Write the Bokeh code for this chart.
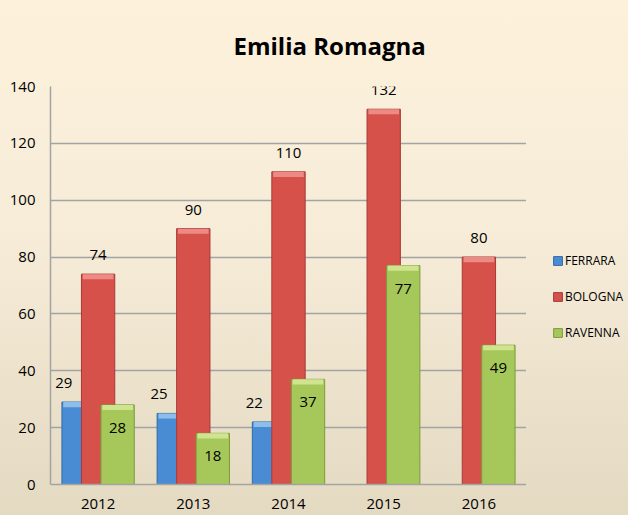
from bokeh.plotting import figure
from bokeh.layouts import row
from bokeh.models import ColumnDataSource, FactorRange, FixedTicker, Legend, LegendItem, Range1d
from bokeh.transform import dodge
from bokeh.core.properties import value
from bokeh.embed import file_html
from bokeh.resources import INLINE

# ---- data ----
years = ["2012", "2013", "2014", "2015", "2016"]
ferrara = [29, 25, 22, None, None]
bologna = [74, 90, 110, 132, 80]
ravenna = [28, 18, 37, 77, 49]
y_ticks = [0, 20, 40, 60, 80, 100, 120, 140]
series_names = ["FERRARA", "BOLOGNA", "RAVENNA"]
title_text = "Emilia Romagna"

# ---- style ----
FONT = "Open Sans"
fill_colors = ["#4A8CD3", "#D7514B", "#A6C85A"]
hi_colors = ["#8DBDEB", "#EE8A84", "#CFE48E"]
line_colors = ["#2F6AA8", "#A63A35", "#7E9A3C"]
offsets = [-0.205, 0.0, 0.205]
bar_w = 0.35
grid_col = "#A3A3A3"
cap = 1.8  # bevel highlight thickness, in value units
BG = {"background-image": "linear-gradient(to bottom, #FDF1DB 0%, #F6ECD8 45%, #E4DAC2 100%)"}
H = 515

p = figure(
    x_range=FactorRange(*years), y_range=Range1d(0, 140),
    width=526, height=H, output_backend="svg", toolbar_location=None,
    min_border_left=50, min_border_right=0, min_border_top=86, min_border_bottom=31,
)
p.styles = BG
p.background_fill_alpha = 0
p.border_fill_alpha = 0
p.outline_line_color = None

# title
p.title.text = title_text
p.title.text_font = FONT
p.title.text_font_size = "24px"
p.title.text_font_style = "bold"
p.title.text_color = "#000000"
p.title.align = "left"
p.title.offset = 183
p.title.standoff = 50

# axes
p.yaxis.ticker = FixedTicker(ticks=y_ticks)
for ax in (p.xaxis[0], p.yaxis[0]):
    ax.axis_line_color = grid_col
    ax.axis_line_width = 1.5
    ax.major_tick_line_color = None
    ax.minor_tick_line_color = None
    ax.major_label_text_font = FONT
    ax.major_label_text_font_size = "15px"
    ax.major_label_text_color = "#000000"
p.yaxis.major_label_standoff = 9
p.xaxis.major_label_standoff = 8
p.xgrid.grid_line_color = None
p.ygrid.grid_line_color = grid_col
p.ygrid.grid_line_width = 1.5
p.x_range.range_padding = 0
p.x_range.factor_padding = 0

nan = float("nan")
series_vals = [ferrara, bologna, ravenna]
for name, vals, fc, hc, lc, off in zip(series_names, series_vals, fill_colors, hi_colors, line_colors, offsets):
    tops = [nan if v is None else v for v in vals]
    src = ColumnDataSource(dict(x=years, top=tops, capb=[t - cap for t in tops]))
    p.vbar(x=dodge("x", off, range=p.x_range), top="top", bottom=0, width=bar_w, source=src,
           fill_color=fc, line_color=lc, line_width=1)
    p.vbar(x=dodge("x", off, range=p.x_range), top="top", bottom="capb", width=bar_w * 0.92, source=src,
           fill_color=hc, line_color=None)

# data labels
lab_specs = [(-0.36, -19), (0.0, -19), (0.205, 23)]
for vals, (xo, yo) in zip(series_vals, lab_specs):
    xs = [y for y, v in zip(years, vals) if v is not None]
    ys = [v for v in vals if v is not None]
    src = ColumnDataSource(dict(x=xs, y=ys, t=[str(v) for v in ys]))
    p.text(x=dodge("x", xo, range=p.x_range), y="y", text="t", source=src, y_offset=yo,
           text_align="center", text_baseline="middle", text_font=value(FONT),
           text_font_size="15px", text_color="#000000")

# ---- legend panel ----
q = figure(width=102, height=H, x_range=Range1d(0, 1), y_range=Range1d(0, 1),
           output_backend="svg", toolbar_location=None, min_border=0,
           x_axis_location=None, y_axis_location=None)
q.styles = BG
q.background_fill_alpha = 0
q.border_fill_alpha = 0
q.outline_line_color = None
q.grid.visible = False
leg_renderers = []
for fc, lc in zip(fill_colors, line_colors):
    # invisible placeholder glyphs (NaN height) used only for the legend swatches
    leg_renderers.append(q.vbar(x=[0.5], top=[nan], bottom=[nan], width=0.1,
                                fill_color=fc, line_color=lc, line_width=1))

legend = Legend(items=[LegendItem(label=n, renderers=[r]) for n, r in zip(series_names, leg_renderers)],
                location=(26, 142), orientation="vertical")
legend.background_fill_alpha = 0
legend.border_line_color = None
legend.padding = 0
legend.margin = 0
legend.spacing = 16
legend.label_height = 20
legend.glyph_height = 11
legend.glyph_width = 11
legend.label_standoff = 2
legend.label_text_font = FONT
legend.label_text_font_size = "12px"
legend.label_text_color = "#000000"
q.add_layout(legend)

layout = row(p, q, spacing=0)
open("out.html", "w").write(file_html(layout, INLINE))
